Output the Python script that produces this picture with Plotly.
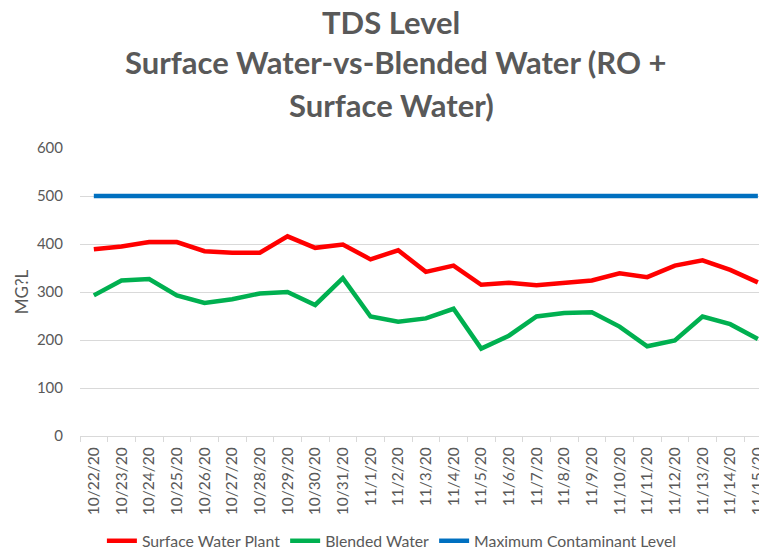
import plotly.graph_objects as go

dates = ["10/22/20", "10/23/20", "10/24/20", "10/25/20", "10/26/20", "10/27/20", "10/28/20",
         "10/29/20", "10/30/20", "10/31/20", "11/1/20", "11/2/20", "11/3/20", "11/4/20",
         "11/5/20", "11/6/20", "11/7/20", "11/8/20", "11/9/20", "11/10/20", "11/11/20",
         "11/12/20", "11/13/20", "11/14/20", "11/15/20"]
surface_water = [389, 395, 404, 404, 385, 382, 382, 416, 392, 399, 368, 387, 342, 355,
                 315, 319, 314, 318, 324, 339, 331, 355, 366, 346, 320]
blended_water = [293, 324, 327, 293, 277, 285, 297, 300, 273, 329, 249, 238, 245, 265,
                 182, 209, 249, 256, 258, 228, 187, 199, 249, 233, 202]
mcl = [500] * len(dates)
title_lines = ["TDS Level", "Surface Water-vs-Blended Water (RO +", "Surface Water)"]

grey = "#595959"
fnt = "Lato, Open Sans, sans-serif"
fig = go.Figure()
fig.add_trace(go.Scatter(x=dates, y=surface_water, name="Surface Water Plant", mode="lines",
                         line=dict(color="#ff0000", width=4.5)))
fig.add_trace(go.Scatter(x=dates, y=blended_water, name="Blended Water", mode="lines",
                         line=dict(color="#00b050", width=4.5)))
fig.add_trace(go.Scatter(x=dates, y=mcl, name="Maximum Contaminant Level", mode="lines",
                         line=dict(color="#0070c0", width=4.5)))

title_x = [0.453, 0.46, 0.453]
title_y = [1.4383, 1.2979, 1.1507]
annotations = [dict(text="<b>%s</b>" % t, xref="paper", yref="paper", x=xx, y=yy,
                    xanchor="center", yanchor="middle", showarrow=False,
                    font=dict(family=fnt, size=31, color=grey))
               for t, xx, yy in zip(title_lines, title_x, title_y)]

# page body has an 8px margin, so the figure is drawn 8px smaller
fig.update_layout(
    width=759, height=550,
    margin=dict(l=72, r=0, t=140, b=118),
    paper_bgcolor="white", plot_bgcolor="white",
    font=dict(family=fnt, color=grey, size=14),
    showlegend=True,
    legend=dict(orientation="h", x=0.454, xanchor="center", y=-0.366, yanchor="middle",
                font=dict(size=15.8, color=grey), tracegroupgap=0),
    annotations=annotations,
)
fig.update_xaxes(type="category", range=[-0.5, 24.33], tickangle=-90, automargin=False,
                 showgrid=False, showline=True, linecolor="#d9d9d9", linewidth=1,
                 ticks="outside", tickson="boundaries", ticklen=5, tickcolor="#d9d9d9",
                 ticklabelstandoff=4, tickfont=dict(size=15.5, color=grey))
fig.update_yaxes(range=[0, 600], dtick=100, showgrid=True, gridcolor="#d9d9d9", gridwidth=1,
                 zeroline=False, showline=False, ticks="", ticklabelstandoff=16, automargin=False,
                 tickfont=dict(size=15, color=grey),
                 title=dict(text="MG?L", font=dict(size=17, color=grey), standoff=3))

fig.write_html("out.html")
